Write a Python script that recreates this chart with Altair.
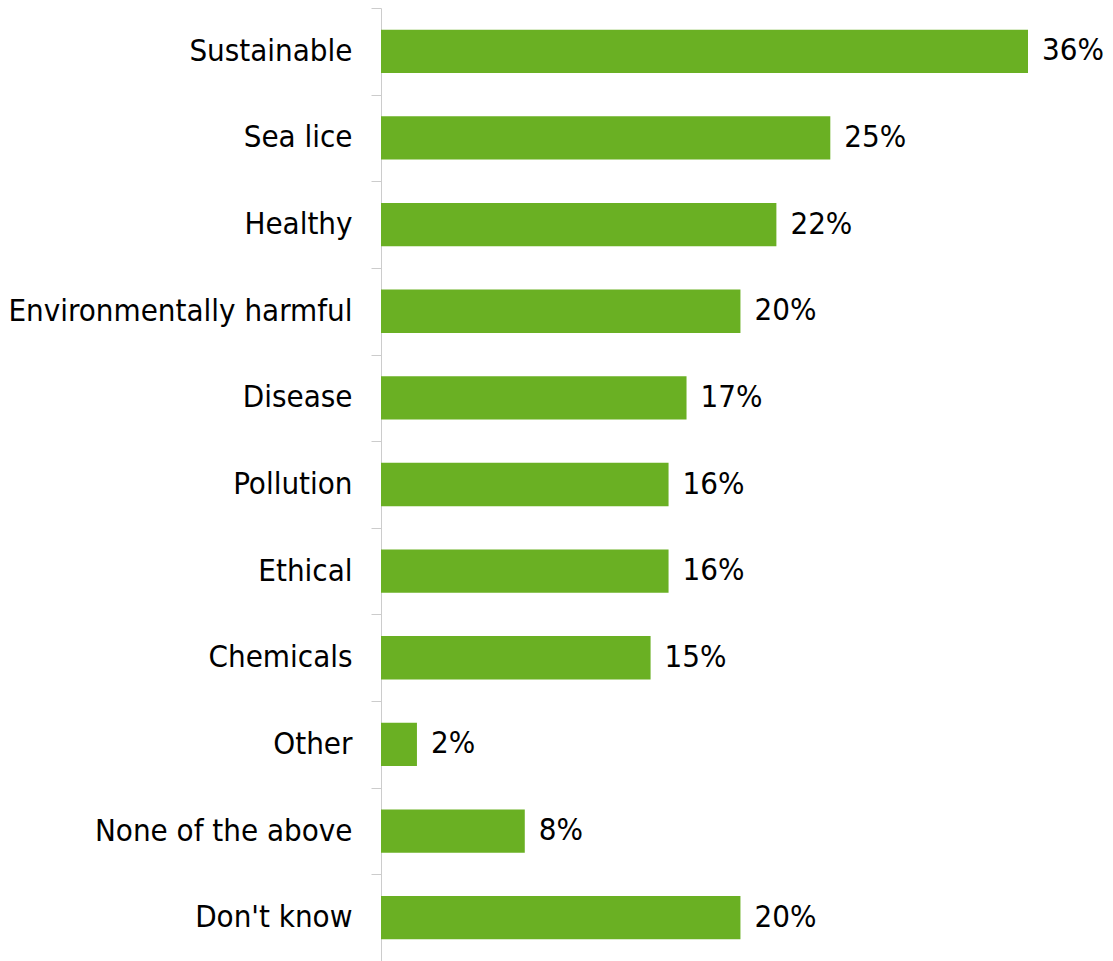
import altair as alt
import pandas as pd

categories = ["Sustainable", "Sea lice", "Healthy", "Environmentally harmful", "Disease",
              "Pollution", "Ethical", "Chemicals", "Other", "None of the above", "Don't know"]
values = [36, 25, 22, 20, 17, 16, 16, 15, 2, 8, 20]

df = pd.DataFrame({"cat": categories, "val": values,
                   "label": [f"{v}%" for v in values]})

FONT = "DejaVu Sans Condensed, Roboto"

y = alt.Y("cat:N", sort=categories, title=None,
          scale=alt.Scale(paddingInner=0, paddingOuter=0),
          axis=alt.Axis(tickBand="extent", labelFont=FONT, labelFontSize=31,
                        labelColor="#000000", labelPadding=19, tickSize=10,
                        tickColor="#cccccc", domainColor="#cccccc",
                        labelLimit=0))
x = alt.X("val:Q", title=None, scale=alt.Scale(domain=[0, 36], nice=False),
          axis=None)

bars = alt.Chart(df).mark_bar(color="#6AB023", height=alt.RelativeBandSize(0.5)).encode(y=y, x=x)
text = alt.Chart(df).mark_text(align="left", baseline="middle", dx=14, font=FONT,
                               fontSize=31, color="#000000").encode(
    y=alt.Y("cat:N", sort=categories), x="val:Q", text="label:N")

chart = (bars + text).properties(
    width=647, height=953,
    autosize=alt.AutoSizeParams(type="none"),
    padding={"left": 373, "top": 0, "right": 77, "bottom": 0},
).configure_view(stroke=None).configure_axis(grid=False)

chart.save("out.html", embed_options={"renderer": "svg", "actions": False})
